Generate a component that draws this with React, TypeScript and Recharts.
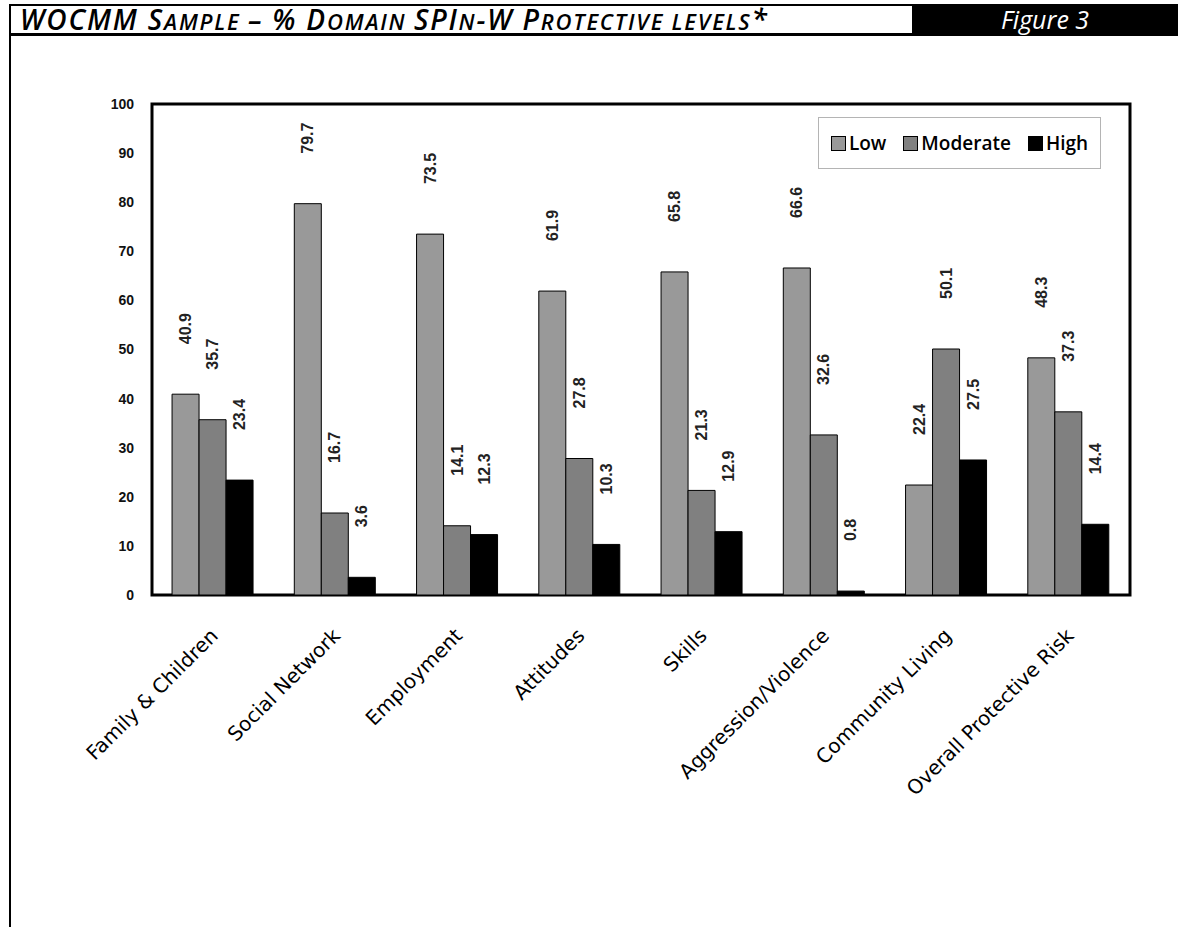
import { Bar, BarChart, LabelList, Legend, ReferenceArea, XAxis, YAxis } from "recharts";

const categories = [
  "Family & Children",
  "Social Network",
  "Employment",
  "Attitudes",
  "Skills",
  "Aggression/Violence",
  "Community Living",
  "Overall Protective Risk",
];
const lowValues = [40.9, 79.7, 73.5, 61.9, 65.8, 66.6, 22.4, 48.3];
const moderateValues = [35.7, 16.7, 14.1, 27.8, 21.3, 32.6, 50.1, 37.3];
const highValues = [23.4, 3.6, 12.3, 10.3, 12.9, 0.8, 27.5, 14.4];
const yTicks = [0, 10, 20, 30, 40, 50, 60, 70, 80, 90, 100];

const series = [
  { key: "low", name: "Low", color: "#999999" },
  { key: "moderate", name: "Moderate", color: "#808080" },
  { key: "high", name: "High", color: "#000000" },
];

const data = categories.map((name, i) => ({
  name,
  low: lowValues[i],
  moderate: moderateValues[i],
  high: highValues[i],
}));

const labelFont = "'DejaVu Sans', Verdana, sans-serif";
const titleFont = "'Open Sans', 'Noto Sans', sans-serif";
const numberFont = "Arial, 'Liberation Sans', sans-serif";

// title words set in small caps by hand: [big, small] pairs
const titleParts: [string, string][] = [
  ["WOCMM ", ""],
  ["S", "AMPLE "],
  ["– % D", "OMAIN "],
  ["SPI", "N"],
  ["-W P", "ROTECTIVE LEVELS"],
  ["*", ""],
];

function CategoryTick(props: any) {
  const { x, y, payload } = props;
  const tx = Number(x) + 6;
  const ty = Number(y) + 34;
  return (
    <text
      x={tx}
      y={ty}
      transform={`rotate(-45, ${tx}, ${ty})`}
      textAnchor="end"
      fontFamily={labelFont}
      fontSize={20}
      fill="#000"
    >
      {payload.value}
    </text>
  );
}

// vertical value label floating above each bar
function ValueLabel(props: any) {
  const { x, y, width, value } = props;
  const cx = Number(x) + Number(width) / 2;
  const ty = Number(y) - 50;
  return (
    <text
      x={cx}
      y={ty}
      transform={`rotate(-90, ${cx}, ${ty})`}
      textAnchor="start"
      dominantBaseline="central"
      fontFamily={numberFont}
      fontWeight="bold"
      fontSize={16}
      fill="#222"
    >
      {Number(value).toFixed(1)}
    </text>
  );
}

function LegendBox() {
  return (
    <div
      style={{
        border: "1px solid #b4b4b4",
        height: 52,
        boxSizing: "border-box",
        display: "flex",
        alignItems: "center",
        justifyContent: "center",
        gap: 17,
        fontFamily: titleFont,
        fontWeight: 600,
        fontSize: 19,
        color: "#000",
        background: "#fff",
      }}
    >
      {series.map((s) => (
        <span key={s.key} style={{ display: "flex", alignItems: "center", gap: 3 }}>
          <span
            style={{
              width: 13,
              height: 13,
              background: s.color,
              border: "1px solid #000",
              display: "inline-block",
            }}
          />
          {s.name}
        </span>
      ))}
    </div>
  );
}

export default function App() {
  return (
    <div
      style={{
        position: "fixed",
        top: 0,
        left: 0,
        width: 1178,
        height: 927,
        background: "#fff",
        overflow: "hidden",
      }}
    >
      {/* page frame */}
      <div style={{ position: "absolute", left: 9, top: 4, width: 2, height: 923, background: "#000" }} />
      <div style={{ position: "absolute", left: 9, top: 4, width: 1169, height: 2, background: "#000" }} />
      <div style={{ position: "absolute", left: 9, top: 33, width: 1169, height: 3, background: "#000" }} />
      <div
        style={{
          position: "absolute",
          left: 20,
          top: 4,
          height: 30,
          lineHeight: "31px",
          fontFamily: titleFont,
          fontStyle: "italic",
          fontWeight: 600,
          letterSpacing: 1.8,
          color: "#000",
          whiteSpace: "nowrap",
        }}
      >
        {titleParts.map(([big, small], i) => (
          <span key={i}>
            <span style={{ fontSize: 28 }}>{big}</span>
            <span style={{ fontSize: 22 }}>{small}</span>
          </span>
        ))}
      </div>
      <div
        style={{
          position: "absolute",
          left: 912,
          top: 4,
          width: 266,
          height: 32,
          background: "#000",
          color: "#fff",
          fontFamily: titleFont,
          fontStyle: "italic",
          fontSize: 25,
          lineHeight: "30px",
          textAlign: "center",
        }}
      >
        Figure 3
      </div>

      <div style={{ position: "absolute", left: 0, top: 0 }}>
        <BarChart
          width={1178}
          height={820}
          data={data}
          margin={{ top: 104, right: 48, left: 0, bottom: 0 }}
          barCategoryGap="16.4%"
          barGap={0}
        >
          <XAxis
            dataKey="name"
            height={225}
            interval={0}
            tickLine={false}
            axisLine={false}
            tick={<CategoryTick />}
          />
          <YAxis
            width={152}
            domain={[0, 100]}
            ticks={yTicks}
            tickLine={false}
            axisLine={false}
            tickMargin={12}
            tick={{ fill: "#111", fontSize: 14, fontWeight: "bold", fontFamily: numberFont }}
          />
          <Legend
            layout="horizontal"
            verticalAlign="middle"
            align="center"
            content={<LegendBox />}
            wrapperStyle={{ top: 117, left: 818, width: 283, height: 52 }}
          />
          {series.map((s) => (
            <Bar
              key={s.key}
              dataKey={s.key}
              name={s.name}
              fill={s.color}
              stroke="#000"
              strokeWidth={1}
              isAnimationActive={false}
            >
              <LabelList dataKey={s.key} content={<ValueLabel />} />
            </Bar>
          ))}
          <ReferenceArea y1={0} y2={100} fill="none" stroke="#000" strokeWidth={3} />
        </BarChart>
      </div>
    </div>
  );
}
